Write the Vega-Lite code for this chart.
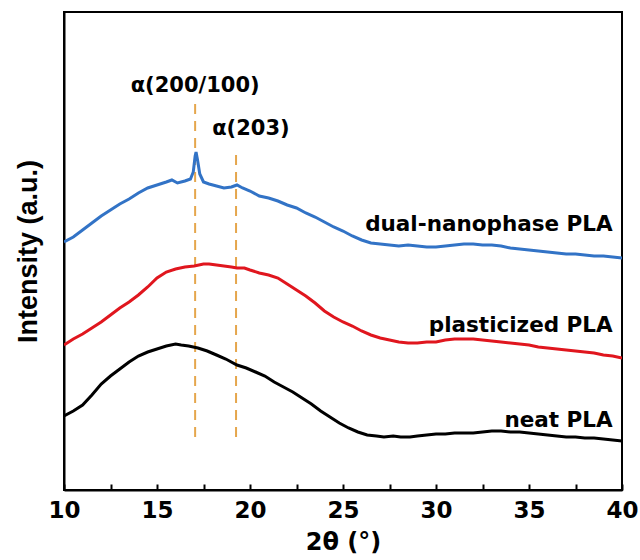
{
  "$schema": "https://vega.github.io/schema/vega-lite/v6.json",
  "width": 558,
  "height": 478,
  "autosize": "none",
  "padding": {"left": 64, "top": 12, "right": 18, "bottom": 70},
  "config": {"view": {"stroke": "black", "strokeWidth": 2}, "font": "DejaVu Sans"},
  "datasets": {
    "curves": [
      {"sample": "dual-nanophase PLA", "theta": 10.0, "intensity": 248},
      {"sample": "dual-nanophase PLA", "theta": 10.5, "intensity": 253},
      {"sample": "dual-nanophase PLA", "theta": 11.0, "intensity": 260},
      {"sample": "dual-nanophase PLA", "theta": 11.5, "intensity": 267},
      {"sample": "dual-nanophase PLA", "theta": 12.0, "intensity": 274},
      {"sample": "dual-nanophase PLA", "theta": 12.5, "intensity": 280},
      {"sample": "dual-nanophase PLA", "theta": 13.0, "intensity": 286},
      {"sample": "dual-nanophase PLA", "theta": 13.5, "intensity": 291},
      {"sample": "dual-nanophase PLA", "theta": 14.0, "intensity": 297},
      {"sample": "dual-nanophase PLA", "theta": 14.5, "intensity": 302},
      {"sample": "dual-nanophase PLA", "theta": 15.0, "intensity": 305},
      {"sample": "dual-nanophase PLA", "theta": 15.5, "intensity": 308},
      {"sample": "dual-nanophase PLA", "theta": 15.8, "intensity": 310},
      {"sample": "dual-nanophase PLA", "theta": 16.1, "intensity": 307},
      {"sample": "dual-nanophase PLA", "theta": 16.5, "intensity": 309},
      {"sample": "dual-nanophase PLA", "theta": 16.8, "intensity": 311},
      {"sample": "dual-nanophase PLA", "theta": 16.95, "intensity": 318},
      {"sample": "dual-nanophase PLA", "theta": 17.05, "intensity": 334},
      {"sample": "dual-nanophase PLA", "theta": 17.1, "intensity": 338},
      {"sample": "dual-nanophase PLA", "theta": 17.18, "intensity": 330},
      {"sample": "dual-nanophase PLA", "theta": 17.3, "intensity": 316},
      {"sample": "dual-nanophase PLA", "theta": 17.5, "intensity": 308},
      {"sample": "dual-nanophase PLA", "theta": 17.8, "intensity": 306},
      {"sample": "dual-nanophase PLA", "theta": 18.2, "intensity": 304},
      {"sample": "dual-nanophase PLA", "theta": 18.6, "intensity": 302},
      {"sample": "dual-nanophase PLA", "theta": 19.0, "intensity": 303},
      {"sample": "dual-nanophase PLA", "theta": 19.3, "intensity": 305},
      {"sample": "dual-nanophase PLA", "theta": 19.6, "intensity": 302},
      {"sample": "dual-nanophase PLA", "theta": 20.0, "intensity": 299},
      {"sample": "dual-nanophase PLA", "theta": 20.5, "intensity": 294},
      {"sample": "dual-nanophase PLA", "theta": 21.0, "intensity": 292},
      {"sample": "dual-nanophase PLA", "theta": 21.5, "intensity": 289},
      {"sample": "dual-nanophase PLA", "theta": 22.0, "intensity": 285},
      {"sample": "dual-nanophase PLA", "theta": 22.5, "intensity": 282},
      {"sample": "dual-nanophase PLA", "theta": 23.0, "intensity": 277},
      {"sample": "dual-nanophase PLA", "theta": 23.5, "intensity": 273},
      {"sample": "dual-nanophase PLA", "theta": 24.0, "intensity": 268},
      {"sample": "dual-nanophase PLA", "theta": 24.5, "intensity": 263},
      {"sample": "dual-nanophase PLA", "theta": 25.0, "intensity": 259},
      {"sample": "dual-nanophase PLA", "theta": 25.5, "intensity": 254},
      {"sample": "dual-nanophase PLA", "theta": 26.0, "intensity": 250},
      {"sample": "dual-nanophase PLA", "theta": 26.5, "intensity": 247},
      {"sample": "dual-nanophase PLA", "theta": 27.0, "intensity": 246},
      {"sample": "dual-nanophase PLA", "theta": 27.5, "intensity": 245},
      {"sample": "dual-nanophase PLA", "theta": 28.0, "intensity": 244},
      {"sample": "dual-nanophase PLA", "theta": 28.5, "intensity": 245},
      {"sample": "dual-nanophase PLA", "theta": 29.0, "intensity": 244},
      {"sample": "dual-nanophase PLA", "theta": 29.5, "intensity": 243},
      {"sample": "dual-nanophase PLA", "theta": 30.0, "intensity": 243},
      {"sample": "dual-nanophase PLA", "theta": 30.5, "intensity": 244},
      {"sample": "dual-nanophase PLA", "theta": 31.0, "intensity": 245},
      {"sample": "dual-nanophase PLA", "theta": 31.5, "intensity": 246},
      {"sample": "dual-nanophase PLA", "theta": 32.0, "intensity": 246},
      {"sample": "dual-nanophase PLA", "theta": 32.5, "intensity": 245},
      {"sample": "dual-nanophase PLA", "theta": 33.0, "intensity": 245},
      {"sample": "dual-nanophase PLA", "theta": 33.5, "intensity": 244},
      {"sample": "dual-nanophase PLA", "theta": 34.0, "intensity": 242},
      {"sample": "dual-nanophase PLA", "theta": 34.5, "intensity": 241},
      {"sample": "dual-nanophase PLA", "theta": 35.0, "intensity": 240},
      {"sample": "dual-nanophase PLA", "theta": 35.5, "intensity": 239},
      {"sample": "dual-nanophase PLA", "theta": 36.0, "intensity": 238},
      {"sample": "dual-nanophase PLA", "theta": 36.5, "intensity": 237},
      {"sample": "dual-nanophase PLA", "theta": 37.0, "intensity": 236},
      {"sample": "dual-nanophase PLA", "theta": 37.5, "intensity": 236},
      {"sample": "dual-nanophase PLA", "theta": 38.0, "intensity": 235},
      {"sample": "dual-nanophase PLA", "theta": 38.5, "intensity": 234},
      {"sample": "dual-nanophase PLA", "theta": 39.0, "intensity": 234},
      {"sample": "dual-nanophase PLA", "theta": 39.5, "intensity": 233},
      {"sample": "dual-nanophase PLA", "theta": 40.0, "intensity": 232},
      {"sample": "plasticized PLA", "theta": 10.0, "intensity": 145},
      {"sample": "plasticized PLA", "theta": 10.5, "intensity": 151},
      {"sample": "plasticized PLA", "theta": 11.0, "intensity": 156},
      {"sample": "plasticized PLA", "theta": 11.5, "intensity": 162},
      {"sample": "plasticized PLA", "theta": 12.0, "intensity": 168},
      {"sample": "plasticized PLA", "theta": 12.5, "intensity": 175},
      {"sample": "plasticized PLA", "theta": 13.0, "intensity": 182},
      {"sample": "plasticized PLA", "theta": 13.5, "intensity": 188},
      {"sample": "plasticized PLA", "theta": 14.0, "intensity": 195},
      {"sample": "plasticized PLA", "theta": 14.5, "intensity": 203},
      {"sample": "plasticized PLA", "theta": 15.0, "intensity": 212},
      {"sample": "plasticized PLA", "theta": 15.5, "intensity": 218},
      {"sample": "plasticized PLA", "theta": 16.0, "intensity": 221},
      {"sample": "plasticized PLA", "theta": 16.5, "intensity": 223},
      {"sample": "plasticized PLA", "theta": 17.0, "intensity": 224},
      {"sample": "plasticized PLA", "theta": 17.5, "intensity": 226},
      {"sample": "plasticized PLA", "theta": 17.8, "intensity": 226},
      {"sample": "plasticized PLA", "theta": 18.2, "intensity": 225},
      {"sample": "plasticized PLA", "theta": 18.6, "intensity": 224},
      {"sample": "plasticized PLA", "theta": 19.0, "intensity": 223},
      {"sample": "plasticized PLA", "theta": 19.3, "intensity": 222},
      {"sample": "plasticized PLA", "theta": 19.7, "intensity": 222},
      {"sample": "plasticized PLA", "theta": 20.0, "intensity": 220},
      {"sample": "plasticized PLA", "theta": 20.5, "intensity": 217},
      {"sample": "plasticized PLA", "theta": 21.0, "intensity": 215},
      {"sample": "plasticized PLA", "theta": 21.5, "intensity": 212},
      {"sample": "plasticized PLA", "theta": 22.0, "intensity": 206},
      {"sample": "plasticized PLA", "theta": 22.5, "intensity": 200},
      {"sample": "plasticized PLA", "theta": 23.0, "intensity": 194},
      {"sample": "plasticized PLA", "theta": 23.5, "intensity": 187},
      {"sample": "plasticized PLA", "theta": 24.0, "intensity": 179},
      {"sample": "plasticized PLA", "theta": 24.5, "intensity": 173},
      {"sample": "plasticized PLA", "theta": 25.0, "intensity": 168},
      {"sample": "plasticized PLA", "theta": 25.5, "intensity": 164},
      {"sample": "plasticized PLA", "theta": 26.0, "intensity": 159},
      {"sample": "plasticized PLA", "theta": 26.5, "intensity": 155},
      {"sample": "plasticized PLA", "theta": 27.0, "intensity": 152},
      {"sample": "plasticized PLA", "theta": 27.5, "intensity": 150},
      {"sample": "plasticized PLA", "theta": 28.0, "intensity": 148},
      {"sample": "plasticized PLA", "theta": 28.5, "intensity": 147},
      {"sample": "plasticized PLA", "theta": 29.0, "intensity": 147},
      {"sample": "plasticized PLA", "theta": 29.5, "intensity": 148},
      {"sample": "plasticized PLA", "theta": 30.0, "intensity": 148},
      {"sample": "plasticized PLA", "theta": 30.5, "intensity": 150},
      {"sample": "plasticized PLA", "theta": 31.0, "intensity": 151},
      {"sample": "plasticized PLA", "theta": 31.5, "intensity": 151},
      {"sample": "plasticized PLA", "theta": 32.0, "intensity": 151},
      {"sample": "plasticized PLA", "theta": 32.5, "intensity": 150},
      {"sample": "plasticized PLA", "theta": 33.0, "intensity": 149},
      {"sample": "plasticized PLA", "theta": 33.5, "intensity": 148},
      {"sample": "plasticized PLA", "theta": 34.0, "intensity": 147},
      {"sample": "plasticized PLA", "theta": 34.5, "intensity": 146},
      {"sample": "plasticized PLA", "theta": 35.0, "intensity": 145},
      {"sample": "plasticized PLA", "theta": 35.5, "intensity": 143},
      {"sample": "plasticized PLA", "theta": 36.0, "intensity": 142},
      {"sample": "plasticized PLA", "theta": 36.5, "intensity": 141},
      {"sample": "plasticized PLA", "theta": 37.0, "intensity": 140},
      {"sample": "plasticized PLA", "theta": 37.5, "intensity": 139},
      {"sample": "plasticized PLA", "theta": 38.0, "intensity": 138},
      {"sample": "plasticized PLA", "theta": 38.5, "intensity": 137},
      {"sample": "plasticized PLA", "theta": 39.0, "intensity": 135},
      {"sample": "plasticized PLA", "theta": 39.5, "intensity": 134},
      {"sample": "plasticized PLA", "theta": 40.0, "intensity": 132},
      {"sample": "neat PLA", "theta": 10.0, "intensity": 74},
      {"sample": "neat PLA", "theta": 10.5, "intensity": 79},
      {"sample": "neat PLA", "theta": 11.0, "intensity": 85},
      {"sample": "neat PLA", "theta": 11.5, "intensity": 95},
      {"sample": "neat PLA", "theta": 12.0, "intensity": 106},
      {"sample": "neat PLA", "theta": 12.5, "intensity": 114},
      {"sample": "neat PLA", "theta": 13.0, "intensity": 121},
      {"sample": "neat PLA", "theta": 13.5, "intensity": 128},
      {"sample": "neat PLA", "theta": 14.0, "intensity": 134},
      {"sample": "neat PLA", "theta": 14.5, "intensity": 138},
      {"sample": "neat PLA", "theta": 15.0, "intensity": 141},
      {"sample": "neat PLA", "theta": 15.5, "intensity": 144},
      {"sample": "neat PLA", "theta": 16.0, "intensity": 146},
      {"sample": "neat PLA", "theta": 16.3, "intensity": 145},
      {"sample": "neat PLA", "theta": 16.7, "intensity": 144},
      {"sample": "neat PLA", "theta": 17.2, "intensity": 142},
      {"sample": "neat PLA", "theta": 17.7, "intensity": 139},
      {"sample": "neat PLA", "theta": 18.2, "intensity": 135},
      {"sample": "neat PLA", "theta": 18.7, "intensity": 131},
      {"sample": "neat PLA", "theta": 19.3, "intensity": 125},
      {"sample": "neat PLA", "theta": 19.8, "intensity": 122},
      {"sample": "neat PLA", "theta": 20.3, "intensity": 118},
      {"sample": "neat PLA", "theta": 20.8, "intensity": 114},
      {"sample": "neat PLA", "theta": 21.3, "intensity": 108},
      {"sample": "neat PLA", "theta": 21.8, "intensity": 103},
      {"sample": "neat PLA", "theta": 22.3, "intensity": 98},
      {"sample": "neat PLA", "theta": 22.8, "intensity": 92},
      {"sample": "neat PLA", "theta": 23.3, "intensity": 86},
      {"sample": "neat PLA", "theta": 23.8, "intensity": 79},
      {"sample": "neat PLA", "theta": 24.3, "intensity": 73},
      {"sample": "neat PLA", "theta": 24.8, "intensity": 67},
      {"sample": "neat PLA", "theta": 25.3, "intensity": 62},
      {"sample": "neat PLA", "theta": 25.8, "intensity": 58},
      {"sample": "neat PLA", "theta": 26.3, "intensity": 55},
      {"sample": "neat PLA", "theta": 26.8, "intensity": 54},
      {"sample": "neat PLA", "theta": 27.2, "intensity": 53},
      {"sample": "neat PLA", "theta": 27.7, "intensity": 54},
      {"sample": "neat PLA", "theta": 28.1, "intensity": 53},
      {"sample": "neat PLA", "theta": 28.6, "intensity": 53},
      {"sample": "neat PLA", "theta": 29.0, "intensity": 54},
      {"sample": "neat PLA", "theta": 29.5, "intensity": 55},
      {"sample": "neat PLA", "theta": 30.0, "intensity": 56},
      {"sample": "neat PLA", "theta": 30.5, "intensity": 56},
      {"sample": "neat PLA", "theta": 31.0, "intensity": 57},
      {"sample": "neat PLA", "theta": 31.5, "intensity": 57},
      {"sample": "neat PLA", "theta": 32.0, "intensity": 57},
      {"sample": "neat PLA", "theta": 32.5, "intensity": 58},
      {"sample": "neat PLA", "theta": 33.0, "intensity": 59},
      {"sample": "neat PLA", "theta": 33.5, "intensity": 59},
      {"sample": "neat PLA", "theta": 34.0, "intensity": 58},
      {"sample": "neat PLA", "theta": 34.5, "intensity": 58},
      {"sample": "neat PLA", "theta": 35.0, "intensity": 57},
      {"sample": "neat PLA", "theta": 35.5, "intensity": 56},
      {"sample": "neat PLA", "theta": 36.0, "intensity": 55},
      {"sample": "neat PLA", "theta": 36.5, "intensity": 54},
      {"sample": "neat PLA", "theta": 37.0, "intensity": 53},
      {"sample": "neat PLA", "theta": 37.5, "intensity": 53},
      {"sample": "neat PLA", "theta": 38.0, "intensity": 52},
      {"sample": "neat PLA", "theta": 38.5, "intensity": 52},
      {"sample": "neat PLA", "theta": 39.0, "intensity": 51},
      {"sample": "neat PLA", "theta": 39.5, "intensity": 50},
      {"sample": "neat PLA", "theta": 40.0, "intensity": 49}
    ],
    "peaks": [
      {"label": "α(200/100)", "theta": 17.05, "low": 53, "high": 390, "labelTheta": 17.05, "labelY": 398},
      {"label": "α(203)", "theta": 19.25, "low": 53, "high": 340, "labelTheta": 20.05, "labelY": 355}
    ],
    "names": [
      {"label": "dual-nanophase PLA", "theta": 39.5, "intensity": 259},
      {"label": "plasticized PLA", "theta": 39.5, "intensity": 158},
      {"label": "neat PLA", "theta": 39.5, "intensity": 63}
    ]
  },
  "layer": [
    {
      "data": {"name": "peaks"},
      "mark": {"type": "rule", "color": "#e5a64c", "strokeWidth": 2, "strokeDash": [10, 7]},
      "encoding": {
        "x": {"field": "theta", "type": "quantitative", "scale": {"domain": [10, 40]}},
        "y": {"field": "low", "type": "quantitative", "scale": {"domain": [0, 478]}},
        "y2": {"field": "high"}
      }
    },
    {
      "data": {"name": "curves"},
      "mark": {"type": "line", "strokeWidth": 3, "clip": true},
      "encoding": {
        "x": {
          "field": "theta", "type": "quantitative",
          "scale": {"domain": [10, 40], "nice": false},
          "axis": {
            "title": "2θ (°)",
            "values": [10, 12.5, 15, 17.5, 20, 22.5, 25, 27.5, 30, 32.5, 35, 37.5, 40],
            "labelExpr": "datum.value % 5 === 0 ? datum.label : ''",
            "labelFlush": false, "labelOverlap": false,
            "grid": false,
            "tickSize": -6, "tickWidth": 2, "tickColor": "black",
            "domainColor": "black", "domainWidth": 2,
            "labelFont": "DejaVu Sans", "labelFontWeight": "bold", "labelFontSize": 23, "labelColor": "black", "labelPadding": 15,
            "titleFont": "DejaVu Sans", "titleFontWeight": "bold", "titleFontSize": 24, "titleColor": "black", "titlePadding": 8
          }
        },
        "y": {
          "field": "intensity", "type": "quantitative",
          "scale": {"domain": [0, 478], "nice": false},
          "axis": {
            "title": "Intensity (a.u.)",
            "labels": false, "ticks": false, "grid": false,
            "domainColor": "black", "domainWidth": 2,
            "titleFont": "Liberation Sans", "titleFontWeight": "bold", "titleFontSize": 27, "titleColor": "black", "titlePadding": 22
          }
        },
        "color": {
          "field": "sample", "type": "nominal",
          "scale": {"domain": ["dual-nanophase PLA", "plasticized PLA", "neat PLA"], "range": ["#3273c6", "#e0161e", "#000000"]},
          "legend": null
        },
        "order": {"field": "theta", "type": "quantitative"}
      }
    },
    {
      "data": {"name": "peaks"},
      "mark": {"type": "text", "font": "DejaVu Sans", "fontWeight": "bold", "fontSize": 21, "align": "center", "baseline": "alphabetic", "color": "black"},
      "encoding": {
        "x": {"field": "labelTheta", "type": "quantitative"},
        "y": {"field": "labelY", "type": "quantitative"},
        "text": {"field": "label"}
      }
    },
    {
      "data": {"name": "names"},
      "mark": {"type": "text", "font": "DejaVu Sans", "fontWeight": "bold", "fontSize": 21.5, "align": "right", "baseline": "alphabetic", "color": "black"},
      "encoding": {
        "x": {"field": "theta", "type": "quantitative"},
        "y": {"field": "intensity", "type": "quantitative"},
        "text": {"field": "label"}
      }
    }
  ]
}
